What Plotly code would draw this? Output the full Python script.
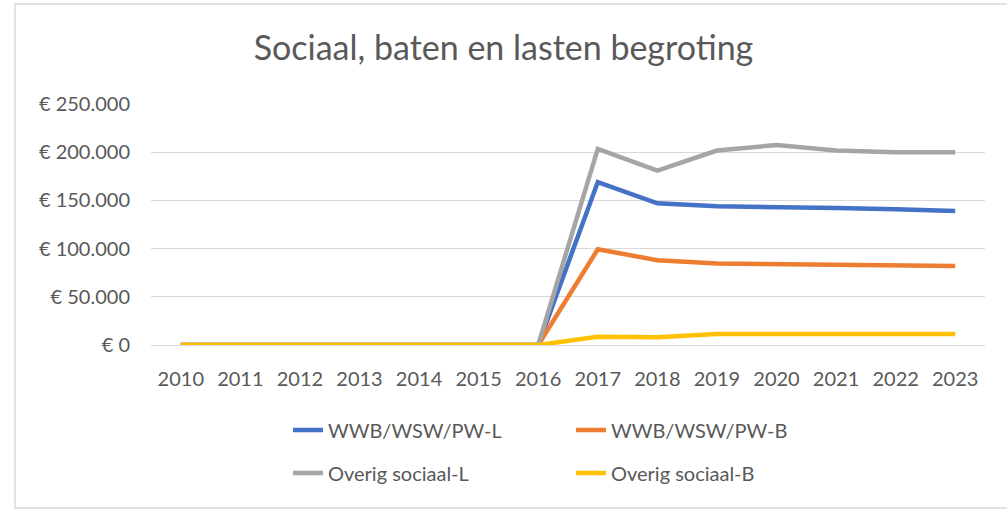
import plotly.graph_objects as go

years = [str(y) for y in range(2010, 2024)]
wwb_l = [0, 0, 0, 0, 0, 0, 0, 169000, 147000, 144000, 142500, 142000, 140700, 139000]
wwb_b = [0, 0, 0, 0, 0, 0, 0, 99300, 88000, 84500, 84000, 82800, 82500, 82000]
overig_l = [0, 0, 0, 0, 0, 0, 0, 203500, 181000, 201700, 207500, 201700, 200000, 200000]
overig_b = [0, 0, 0, 0, 0, 0, 0, 8600, 8000, 11400, 11400, 11400, 11400, 11400]
y_ticks = [0, 50000, 100000, 150000, 200000, 250000]
y_labels = ["€ 0", "€ 50.000", "€ 100.000", "€ 150.000", "€ 200.000", "€ 250.000"]

series = [
    ("WWB/WSW/PW-L", wwb_l, "#4472C4", "legend"),
    ("WWB/WSW/PW-B", wwb_b, "#ED7D31", "legend"),
    ("Overig sociaal-L", overig_l, "#A5A5A5", "legend2"),
    ("Overig sociaal-B", overig_b, "#FFC000", "legend2"),
]

W, H = 1007, 510
ml, mr, mt, mb = 151, 22, 104, 165
pw, ph = W - ml - mr, H - mt - mb
txt = "#595959"
font = "Lato, 'Open Sans', sans-serif"

fig = go.Figure()
for name, vals, col, lg in series:
    fig.add_trace(go.Scatter(x=years, y=vals, name=name, mode="lines",
                             line=dict(color=col, width=4.5), legend=lg))

legend_common = dict(orientation="h", xanchor="left", yanchor="middle", entrywidth=238,
                      font=dict(size=20, color=txt, family=font), bgcolor="rgba(0,0,0,0)")

fig.update_layout(
    width=W, height=H,
    margin=dict(l=ml, r=mr, t=mt, b=mb),
    paper_bgcolor="white", plot_bgcolor="white",
    font=dict(family=font, color=txt),
    title=dict(text="Sociaal, baten en lasten begroting", x=0.5, xanchor="center",
               y=1 - 48 / H, yanchor="middle", font=dict(size=34, color=txt, family=font)),
    xaxis=dict(type="category", showgrid=False, showline=True, linecolor="#D9D9D9",
               ticks="", tickfont=dict(size=20, color=txt), ticklabelstandoff=16,
               range=[-0.5, len(years) - 0.5]),
    yaxis=dict(range=[0, 250000], tickvals=y_ticks, ticktext=y_labels,
               showgrid=True, gridcolor="#D9D9D9",
               gridwidth=1, zeroline=False, showline=False, ticks="",
               tickfont=dict(size=20, color=txt), ticklabelstandoff=20),
    legend=dict(x=(288 - ml) / pw, y=-(430 - mt - ph) / ph, **legend_common),
    legend2=dict(x=(288 - ml) / pw, y=-(473 - mt - ph) / ph, **legend_common),
    shapes=[dict(type="rect", xref="paper", yref="paper",
                 x0=-(ml - 15) / pw, x1=1 + (mr + 20) / pw,
                 y0=-(508 - mt - ph) / ph, y1=1 + (mt - 4) / ph,
                 line=dict(color="#D9D9D9", width=1.5))],
)

fig.write_html("out.html", config={"displayModeBar": False},
               post_script="document.body.style.margin='0';")
